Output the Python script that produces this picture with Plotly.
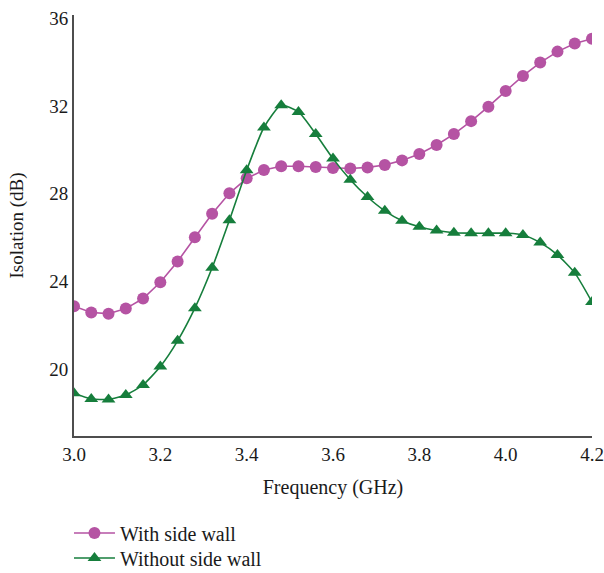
import plotly.graph_objects as go

# Frequency samples (GHz)
freq = [3.00, 3.04, 3.08, 3.12, 3.16, 3.20, 3.24, 3.28, 3.32, 3.36, 3.40,
        3.44, 3.48, 3.52, 3.56, 3.60, 3.64, 3.68, 3.72, 3.76, 3.80, 3.84,
        3.88, 3.92, 3.96, 4.00, 4.04, 4.08, 4.12, 4.16, 4.20]

# Isolation (dB) with side wall
with_wall = [22.87, 22.58, 22.53, 22.76, 23.22, 23.96, 24.91, 26.01, 27.09,
             28.02, 28.70, 29.08, 29.25, 29.25, 29.22, 29.17, 29.15, 29.20,
             29.31, 29.52, 29.81, 30.22, 30.72, 31.31, 31.97, 32.68, 33.37,
             33.98, 34.48, 34.85, 35.07]

# Isolation (dB) without side wall
without_wall = [18.90, 18.64, 18.62, 18.82, 19.28, 20.12, 21.29, 22.78, 24.62,
                26.79, 29.07, 31.02, 32.03, 31.73, 30.72, 29.60, 28.64, 27.85,
                27.22, 26.77, 26.49, 26.32, 26.22, 26.20, 26.20, 26.20, 26.12,
                25.77, 25.21, 24.39, 23.06]

x_ticks = [3.0, 3.2, 3.4, 3.6, 3.8, 4.0, 4.2]
y_ticks = [20, 24, 28, 32, 36]

MAGENTA = "#b553a3"
GREEN = "#167e3c"
FONT = "Liberation Serif"
TEXT = "#1a1a1a"

fig = go.Figure()
fig.add_trace(go.Scatter(
    x=freq, y=with_wall, name="With side wall",
    mode="lines+markers", legend="legend",
    line=dict(color=MAGENTA, width=1.6),
    marker=dict(symbol="circle", size=12, color=MAGENTA),
))
fig.add_trace(go.Scatter(
    x=freq, y=without_wall, name="Without side wall",
    mode="lines+markers", legend="legend2",
    line=dict(color=GREEN, width=1.6, shape="spline", smoothing=0.6),
    marker=dict(symbol="triangle-up", size=12, color=GREEN),
))

# one legend box per row, placed against the bottom of the figure
legend_style = dict(
    xref="paper", yref="container",
    xanchor="left", yanchor="middle",
    font=dict(family=FONT, size=20, color=TEXT),
    itemwidth=41, bgcolor="rgba(0,0,0,0)",
)

fig.update_layout(
    width=604, height=573,
    margin=dict(l=74, r=12, t=15, b=137),
    paper_bgcolor="white", plot_bgcolor="white",
    font=dict(family=FONT, size=19, color=TEXT),
    showlegend=True,
    legend=dict(x=-0.0097, y=1 - 533 / 573, **legend_style),
    legend2=dict(x=-0.0097, y=1 - 558 / 573, **legend_style),
)
fig.update_xaxes(
    range=[3.0, 4.2], tickvals=x_ticks, ticktext=[f"{v:.1f}" for v in x_ticks],
    showline=True, linecolor="#4d4d4d", linewidth=2, mirror=False,
    showgrid=False, zeroline=False, ticks="", automargin=False,
    tickfont=dict(size=19),
    title=dict(text="Frequency (GHz)", standoff=16, font=dict(size=20)),
)
fig.update_yaxes(
    range=[16.95, 36.15], tickvals=y_ticks,
    showline=True, linecolor="#4d4d4d", linewidth=2, mirror=False,
    showgrid=False, zeroline=False, ticks="", automargin=False,
    tickfont=dict(size=19),
    title=dict(text="Isolation (dB)", standoff=21, font=dict(size=19)),
)

fig.write_html("out.html")
